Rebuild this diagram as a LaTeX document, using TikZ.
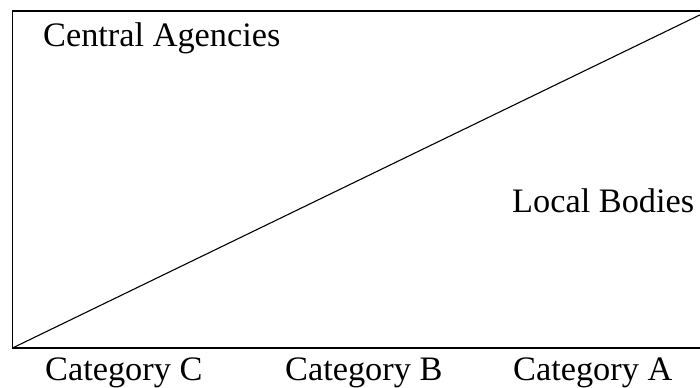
\documentclass[tikz,border=0pt]{standalone}
\usepackage{fontspec}
\setmainfont{Liberation Serif}
\begin{document}
\begin{tikzpicture}[x=1bp,y=1bp,
  lbl/.style={inner sep=0pt, anchor=base west, font=\fontsize{34.3bp}{40bp}\selectfont},
  edge/.style={line width=1.1bp, black}]
\clip (0,0) rectangle (700,387);
\fill[white] (0,0) rectangle (700,387);
\coordinate (tl) at (12.5,376);
\coordinate (bl) at (12.5,39);
\coordinate (tr) at (708,376);
\coordinate (br) at (708,39);
\draw[edge] (tr) -- (tl) -- (bl) -- (br);
\draw[edge] (bl) -- (tr);
\node[lbl] (central) at (43,340.3) {Central Agencies};
\node[lbl] (local) at (512,175) {Local Bodies};
\node[lbl] (catc) at (45,6.3) {Category C};
\node[lbl] (catb) at (285,6.3) {Category B};
\node[lbl] (cata) at (513,6.3) {Category A};
\end{tikzpicture}
\end{document}
